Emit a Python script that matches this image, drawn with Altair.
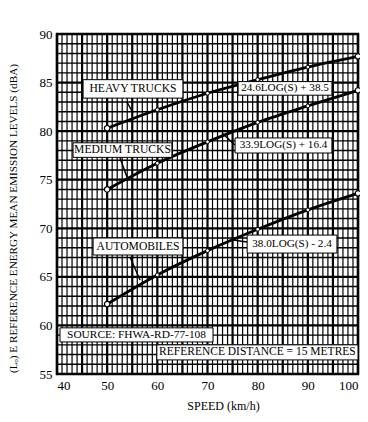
import altair as alt
import pandas as pd

speeds = [50, 60, 70, 80, 90, 100]
heavy = [80.3, 82.2, 83.9, 85.3, 86.6, 87.7]
medium = [74.0, 76.7, 78.9, 80.9, 82.6, 84.2]
autos = [62.2, 65.2, 67.7, 69.9, 71.9, 73.6]
series_names = ["Heavy trucks", "Medium trucks", "Automobiles"]

x_ticks = list(range(40, 101, 5))
y_ticks = list(range(55, 91, 5))

label_texts = ["HEAVY TRUCKS", "24.6LOG(S) + 38.5", "MEDIUM TRUCKS", "33.9LOG(S) + 16.4",
               "AUTOMOBILES", "38.0LOG(S) - 2.4", "SOURCE: FHWA-RD-77-108",
               "REFERENCE DISTANCE = 15 METRES"]
label_size = [11.6, 11.2, 11.6, 11.2, 11.6, 11.2, 11.4, 11.5]
label_x1 = [45.2, 76.1, 43.2, 75.5, 47.2, 77.9, 40.6, 59.9]
label_x2 = [65.1, 94.8, 62.9, 94.8, 65.1, 95.8, 71.1, 100.0]
label_y1 = [83.4, 83.7, 77.3, 77.75, 67.25, 67.45, 58.3, 56.45]
label_y2 = [85.3, 85.1, 78.8, 79.3, 69.0, 69.3, 59.75, 58.0]

leader_x1 = [53.95, 52.56, 54.55, 75.48, 77.87]
leader_y1 = [83.0, 77.24, 67.04, 78.57, 68.59]
leader_x2 = [55.15, 53.95, 56.55, 72.89, 75.08]
leader_y2 = [81.87, 75.28, 64.68, 79.81, 68.79]

FONT = "Liberation Serif"

rows = []
for name, vals in zip(series_names, [heavy, medium, autos]):
    for s, v in zip(speeds, vals):
        rows.append({"series": name, "speed": s, "level": v,
                     "end": s in (speeds[0], speeds[-1])})
curves = pd.DataFrame(rows)

xs = alt.Scale(domain=[40, 100], nice=False, zero=False)
ys = alt.Scale(domain=[55, 90], nice=False, zero=False)

vgrid = pd.DataFrame({"v": list(range(40, 101))})
vgrid["w"] = [2.2 if v % 5 == 0 else 1.2 for v in vgrid["v"]]
hgrid = pd.DataFrame({"v": list(range(55, 91))})
hgrid["w"] = [2.2 if v % 5 == 0 else 1.4 for v in hgrid["v"]]

vlines = alt.Chart(vgrid).mark_rule(color="black").encode(
    x=alt.X("v:Q", scale=xs, axis=alt.Axis(values=x_ticks, title="SPEED (km/h)",
                                          titleX=166, titleY=26)),
    strokeWidth=alt.StrokeWidth("w:Q", scale=None),
)
hlines = alt.Chart(hgrid).mark_rule(color="black").encode(
    y=alt.Y("v:Q", scale=ys, axis=alt.Axis(values=y_ticks,
            title="(Lₒ) E REFERENCE ENERGY MEAN EMISSION LEVELS (dBA)",
            titleX=-44, titleY=184, titleBaseline="middle", titleFontSize=11.2)),
    strokeWidth=alt.StrokeWidth("w:Q", scale=None),
)

lines = alt.Chart(curves).mark_line(color="black", strokeWidth=2.8, interpolate="monotone").encode(
    x=alt.X("speed:Q", scale=xs), y=alt.Y("level:Q", scale=ys), detail="series:N")
ends = alt.Chart(curves).transform_filter("datum.end").mark_point(
    shape="circle", filled=True, fill="white", stroke="black", strokeWidth=1.2, size=30, opacity=1
).encode(x=alt.X("speed:Q", scale=xs), y=alt.Y("level:Q", scale=ys))
mids = alt.Chart(curves).transform_filter("!datum.end").mark_point(
    shape="circle", filled=True, fill="white", stroke="black", strokeWidth=1, size=14, opacity=1
).encode(x=alt.X("speed:Q", scale=xs), y=alt.Y("level:Q", scale=ys))

lab = pd.DataFrame({"t": label_texts, "s": label_size, "x1": label_x1, "x2": label_x2,
                    "y1": label_y1, "y2": label_y2})
lab["xc"] = (lab["x1"] + lab["x2"]) / 2
lab["yc"] = (lab["y1"] + lab["y2"]) / 2
boxes = alt.Chart(lab).mark_rect(fill="white", stroke="black", strokeWidth=1).encode(
    x=alt.X("x1:Q", scale=xs), x2="x2:Q", y=alt.Y("y1:Q", scale=ys), y2="y2:Q")
texts = alt.Chart(lab).mark_text(font=FONT, color="black",
                                 align="center", baseline="middle").encode(
    x=alt.X("xc:Q", scale=xs), y=alt.Y("yc:Q", scale=ys), text="t:N",
    size=alt.Size("s:Q", scale=None))

lead = pd.DataFrame({"x1": leader_x1, "y1": leader_y1, "x2": leader_x2, "y2": leader_y2})
leaders = alt.Chart(lead).mark_rule(color="black", strokeWidth=1.5).encode(
    x=alt.X("x1:Q", scale=xs), y=alt.Y("y1:Q", scale=ys), x2="x2:Q", y2="y2:Q")

chart = alt.layer(vlines, hlines, lines, leaders, ends, mids, boxes, texts).properties(
    width=301, height=340,
    autosize=alt.AutoSizeParams(type="none"),
    padding={"left": 49, "top": 26, "right": 2, "bottom": 40},
).configure_view(stroke="black", strokeWidth=2.5).configure_axis(
    labelFont=FONT, labelFontSize=13, labelColor="black", titleFont=FONT,
    titleFontSize=12, titleFontWeight="normal", titleColor="black",
    ticks=False, domain=False, grid=False, labelPadding=5,
)

chart.save("out.html", embed_options={"renderer": "svg", "actions": False})
